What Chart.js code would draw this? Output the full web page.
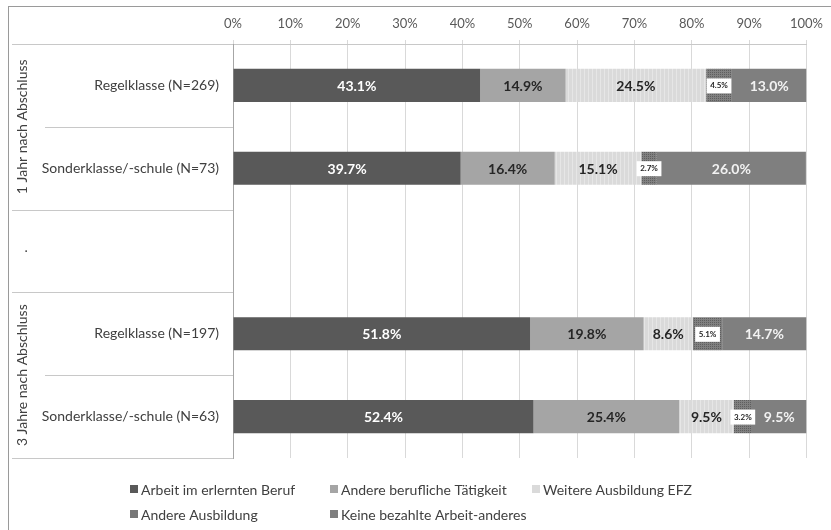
<!DOCTYPE html>
<html>
<head>
<meta charset="utf-8">
<script src="https://cdn.jsdelivr.net/npm/chart.js@4"></script>
<style>
  body { margin: 0; background: #fff; }
  #wrap { width: 831px; height: 530px; }
</style>
</head>
<body>
<div id="wrap"><canvas id="chart" width="831" height="530"></canvas></div>
<script>
// Daten
const kategorien = ['Regelklasse (N=269)', 'Sonderklasse/-schule (N=73)', '', 'Regelklasse (N=197)', 'Sonderklasse/-schule (N=63)'];
const gruppen = ['1 Jahr nach Abschluss', '.', '3 Jahre nach Abschluss'];
const gruppenSpannen = [2, 1, 2];
const serienNamen = ['Arbeit im erlernten Beruf', 'Andere berufliche Tätigkeit', 'Weitere Ausbildung EFZ', 'Andere Ausbildung', 'Keine bezahlte Arbeit-anderes'];
const arbeitBeruf = [43.1, 39.7, null, 51.8, 52.4];
const andereTaetigkeit = [14.9, 16.4, null, 19.8, 25.4];
const weitereAusbildung = [24.5, 15.1, null, 8.6, 9.5];
const andereAusbildung = [4.5, 2.7, null, 5.1, 3.2];
const keineArbeit = [13.0, 26.0, null, 14.7, 9.5];
const xMin = 0, xMax = 100, xSchritt = 10;

Chart.defaults.font.family = 'Lato, "Open Sans", sans-serif';

// Muster fuer die schraffierten Segmente
function muster(grund, strich, art) {
    const c = document.createElement('canvas');
    c.width = 4; c.height = 4;
    const g = c.getContext('2d');
    g.fillStyle = grund;
    g.fillRect(0, 0, 4, 4);
    g.fillStyle = strich;
    if (art === 'streifen') {
        g.fillRect(0, 0, 1, 4);
    } else {
        g.fillRect(0, 0, 1, 1);
        g.fillRect(2, 2, 1, 1);
        g.fillRect(2, 0, 1, 1);
        g.fillRect(0, 2, 1, 1);
    }
    return g.createPattern(c, 'repeat');
}

const farben = ['#595959', '#a5a5a5', muster('#dadada', '#e6e6e6', 'streifen'), muster('#808080', '#5e5e5e', 'punkte'), '#7f7f7f'];
const legendenFarben = ['#595959', '#a5a5a5', '#dadada', '#777777', '#7f7f7f'];
const textFarben = ['#ffffff', '#262626', '#262626', '#262626', '#f2f2f2'];
const werte = [arbeitBeruf, andereTaetigkeit, weitereAusbildung, andereAusbildung, keineArbeit];

// Beschriftungen auf den Balken
const balkenText = {
    id: 'balkenText',
    afterDatasetsDraw(chart) {
        const ctx = chart.ctx;
        ctx.save();
        ctx.textAlign = 'center';
        ctx.textBaseline = 'middle';
        chart.data.datasets.forEach((ds, i) => {
            const meta = chart.getDatasetMeta(i);
            meta.data.forEach((bar, j) => {
                const v = ds.data[j];
                if (v == null) return;
                const cx = (bar.x + bar.base) / 2;
                const txt = v.toFixed(1) + '%';
                if (ds.kasten) {
                    ctx.font = 'bold 8px Lato';
                    const w = ctx.measureText(txt).width + 7;
                    ctx.fillStyle = '#ffffff';
                    ctx.fillRect(cx - w / 2, bar.y - 7, w, 15);
                    ctx.fillStyle = '#262626';
                    ctx.fillText(txt, cx, bar.y + 0.5);
                } else {
                    ctx.font = 'bold 14px Lato';
                    ctx.fillStyle = ds.textFarbe;
                    ctx.fillText(txt, cx, bar.y + 1);
                }
            });
        });
        ctx.restore();
    }
};

// Rahmen, Gruppen links und Legende
const rahmen = {
    id: 'rahmen',
    afterDraw(chart) {
        const ctx = chart.ctx;
        const area = chart.chartArea;
        const y = chart.scales.y;
        ctx.save();
        // aeusserer Rahmen
        ctx.strokeStyle = '#9a9a9a';
        ctx.lineWidth = 1;
        ctx.strokeRect(8.5, 6.5, 840, 540);
        // obere Linie nach links verlaengern
        ctx.strokeStyle = '#c8c8c8';
        ctx.beginPath();
        ctx.moveTo(12, area.top + 0.5);
        ctx.lineTo(area.left, area.top + 0.5);
        ctx.stroke();
        // Trennlinien im Beschriftungsbereich
        const grenzen = [];
        let s = 0;
        gruppenSpannen.forEach(n => { s += n; grenzen.push(s); });
        ctx.strokeStyle = '#c8c8c8';
        for (let k = 1; k <= kategorien.length; k++) {
            let py;
            if (k === kategorien.length) py = area.bottom;
            else py = (y.getPixelForValue(k - 1) + y.getPixelForValue(k)) / 2;
            const x0 = grenzen.includes(k) ? 12 : 45;
            ctx.beginPath();
            ctx.moveTo(x0, Math.round(py) + 0.5);
            ctx.lineTo(area.left, Math.round(py) + 0.5);
            ctx.stroke();
        }
        // Gruppentexte gedreht
        ctx.fillStyle = '#404040';
        ctx.font = '14px Lato';
        ctx.textAlign = 'center';
        ctx.textBaseline = 'middle';
        let start = 0;
        gruppen.forEach((g, gi) => {
            const ende = start + gruppenSpannen[gi] - 1;
            const py = (y.getPixelForValue(start) + y.getPixelForValue(ende)) / 2;
            ctx.save();
            ctx.translate(22, py);
            ctx.rotate(-Math.PI / 2);
            ctx.fillText(g, 0, 0);
            ctx.restore();
            start = ende + 1;
        });
        // Legende
        const spalten = [130, 330, 532];
        const zeilen = [489, 514];
        ctx.textAlign = 'left';
        ctx.font = '14px Lato';
        chart.data.datasets.forEach((ds, i) => {
            const lx = spalten[i % 3];
            const ly = zeilen[Math.floor(i / 3)];
            ctx.fillStyle = ds.legendenFarbe;
            ctx.fillRect(lx, ly - 4, 8, 8);
            ctx.fillStyle = '#404040';
            ctx.fillText(ds.label, lx + 11, ly + 1);
        });
        ctx.restore();
    }
};

new Chart(document.getElementById('chart'), {
    type: 'bar',
    data: {
        labels: kategorien,
        datasets: serienNamen.map((name, i) => ({
            label: name,
            data: werte[i],
            backgroundColor: farben[i],
            legendenFarbe: legendenFarben[i],
            textFarbe: textFarben[i],
            kasten: i === 3,
            categoryPercentage: 1,
            barPercentage: 0.4
        }))
    },
    options: {
        indexAxis: 'y',
        responsive: false,
        animation: false,
        layout: { padding: { left: 12, top: 6, right: 23, bottom: 72 } },
        plugins: {
            legend: { display: false },
            tooltip: { enabled: false }
        },
        scales: {
            x: {
                position: 'top',
                stacked: true,
                min: xMin,
                max: xMax,
                afterFit(scale) { scale.height = 38; },
                ticks: {
                    stepSize: xSchritt,
                    padding: 8,
                    color: '#595959',
                    font: { size: 13 },
                    callback: v => v + '%'
                },
                grid: { color: '#d9d9d9', tickLength: 4 },
                border: { color: '#c8c8c8' }
            },
            y: {
                stacked: true,
                afterFit(scale) { scale.width = 221; },
                ticks: {
                    padding: 14,
                    color: '#404040',
                    font: { size: 14 }
                },
                grid: { display: false, drawTicks: false },
                border: { color: '#a6a6a6' }
            }
        }
    },
    plugins: [balkenText, rahmen]
});
</script>
</body>
</html>
